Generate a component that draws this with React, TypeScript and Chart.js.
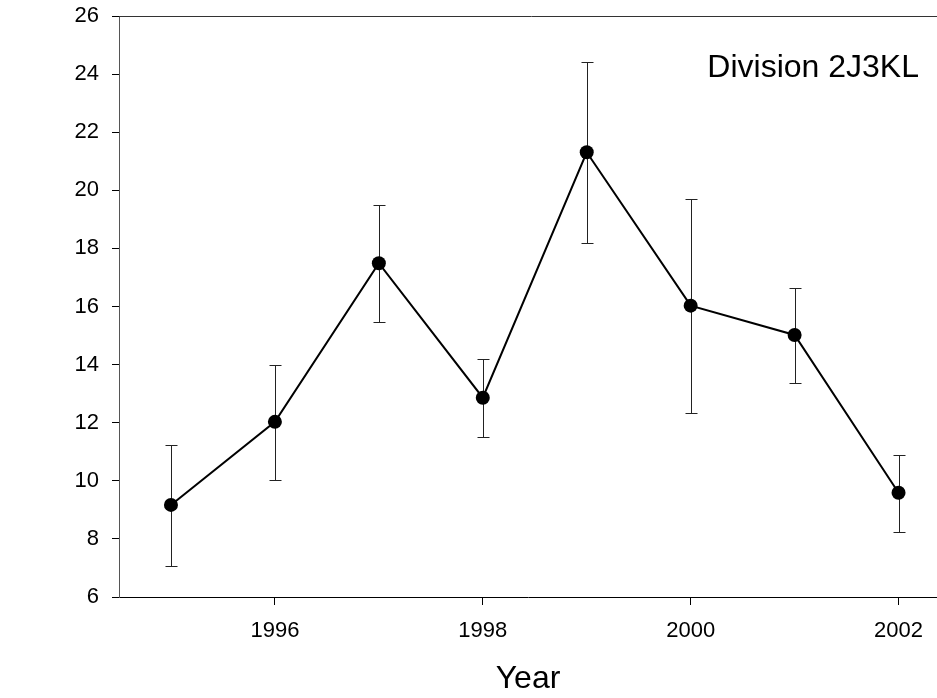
import { useEffect, useRef } from "react";
import { Chart, registerables } from "chart.js";

Chart.register(...registerables);

// Survey years and annual means with their error bounds
const years = [1995, 1996, 1997, 1998, 1999, 2000, 2001, 2002];
const means = [9.17, 12.03, 17.49, 12.86, 21.31, 16.03, 15.02, 9.59];
const lowerBounds = [7.08, 10.03, 15.47, 11.5, 18.2, 12.35, 13.36, 8.25];
const upperBounds = [11.24, 13.97, 19.48, 14.18, 24.4, 19.7, 16.65, 10.89];

// Axis ticks
const xTickValues = [1996, 1998, 2000, 2002];
const yTickValues = [6, 8, 10, 12, 14, 16, 18, 20, 22, 24, 26];

const divisionLabel = "Division 2J3KL";
const xAxisTitle = "Year";

const FONT = "'Liberation Sans', Arial, Helvetica, sans-serif";

// Vertical error bars with caps, drawn under the line and markers
const errorBarPlugin = {
  id: "errorBars",
  beforeDatasetsDraw(chart: any) {
    const { ctx, scales } = chart;
    const x = scales.x;
    const y = scales.y;
    ctx.save();
    ctx.strokeStyle = "#222";
    ctx.lineWidth = 1;
    years.forEach((yr, i) => {
      const px = Math.round(x.getPixelForValue(yr)) + 0.5;
      const top = Math.round(y.getPixelForValue(upperBounds[i])) + 0.5;
      const bot = Math.round(y.getPixelForValue(lowerBounds[i])) + 0.5;
      ctx.beginPath();
      ctx.moveTo(px, top);
      ctx.lineTo(px, bot);
      ctx.moveTo(px - 6, top);
      ctx.lineTo(px + 6, top);
      ctx.moveTo(px - 6, bot);
      ctx.lineTo(px + 6, bot);
      ctx.stroke();
    });
    ctx.restore();
  },
};

// Top frame line and the division label inside the plot
const framePlugin = {
  id: "frameAndLabel",
  afterDraw(chart: any) {
    const { ctx, chartArea } = chart;
    ctx.save();
    ctx.strokeStyle = "#333";
    ctx.lineWidth = 1;
    const top = Math.round(chartArea.top) + 0.5;
    ctx.beginPath();
    ctx.moveTo(chartArea.left, top);
    ctx.lineTo(chart.width, top);
    ctx.stroke();

    ctx.fillStyle = "#000";
    ctx.font = `32px ${FONT}`;
    ctx.textAlign = "right";
    ctx.textBaseline = "alphabetic";
    ctx.fillText(divisionLabel, chartArea.right - 18, chartArea.top + 61);
    ctx.restore();
  },
};

export default function App() {
  const canvasRef = useRef<HTMLCanvasElement | null>(null);

  useEffect(() => {
    document.body.style.margin = "0";
    const canvas = canvasRef.current;
    if (!canvas) return;

    const chart = new Chart(canvas, {
      type: "line",
      data: {
        datasets: [
          {
            data: years.map((yr, i) => ({ x: yr, y: means[i] })),
            borderColor: "#000",
            borderWidth: 2,
            backgroundColor: "#000",
            pointBackgroundColor: "#000",
            pointBorderColor: "#000",
            pointRadius: 7,
            pointBorderWidth: 0,
            tension: 0,
            fill: false,
          },
        ],
      },
      options: {
        responsive: false,
        animation: false,
        events: [],
        layout: { padding: { top: 16, left: 0, right: 0, bottom: 0 } },
        plugins: {
          legend: { display: false },
          tooltip: { enabled: false },
          title: { display: false },
        },
        scales: {
          x: {
            type: "linear",
            min: 1994.5,
            max: 2002.37,
            afterBuildTicks: (scale: any) => {
              scale.ticks = xTickValues.map((v) => ({ value: v }));
            },
            afterFit: (scale: any) => {
              scale.height = 101;
              scale.paddingLeft = 0;
              scale.paddingRight = 0;
            },
            grid: {
              drawOnChartArea: false,
              drawTicks: true,
              tickLength: 8,
              tickColor: "#000",
              tickWidth: 1,
            },
            border: { display: true, color: "#000", width: 1 },
            ticks: {
              color: "#000",
              font: { family: FONT, size: 22 },
              padding: 13,
              maxRotation: 0,
              autoSkip: false,
              callback: (v: any) => String(v),
            },
            title: {
              display: true,
              text: xAxisTitle,
              color: "#000",
              font: { family: FONT, size: 32 },
              padding: { top: 0, bottom: 0 },
            },
          },
          y: {
            type: "linear",
            min: 6,
            max: 26,
            afterBuildTicks: (scale: any) => {
              scale.ticks = yTickValues.map((v) => ({ value: v }));
            },
            afterFit: (scale: any) => {
              scale.width = 119;
              scale.paddingTop = 0;
              scale.paddingBottom = 0;
            },
            grid: {
              drawOnChartArea: false,
              drawTicks: true,
              tickLength: 7,
              tickColor: "#000",
              tickWidth: 1,
            },
            border: { display: true, color: "#555", width: 1 },
            ticks: {
              color: "#000",
              font: { family: FONT, size: 22 },
              padding: 13,
              callback: (v: any) => String(v),
            },
          },
        },
      },
      plugins: [errorBarPlugin, framePlugin],
    });

    return () => {
      chart.destroy();
    };
  }, []);

  // The canvas is a little wider than the frame so the plot runs to the right edge
  return (
    <div style={{ width: 937, height: 698, overflow: "hidden", background: "#fff" }}>
      <canvas ref={canvasRef} width={944} height={698} style={{ display: "block" }} />
    </div>
  );
}
